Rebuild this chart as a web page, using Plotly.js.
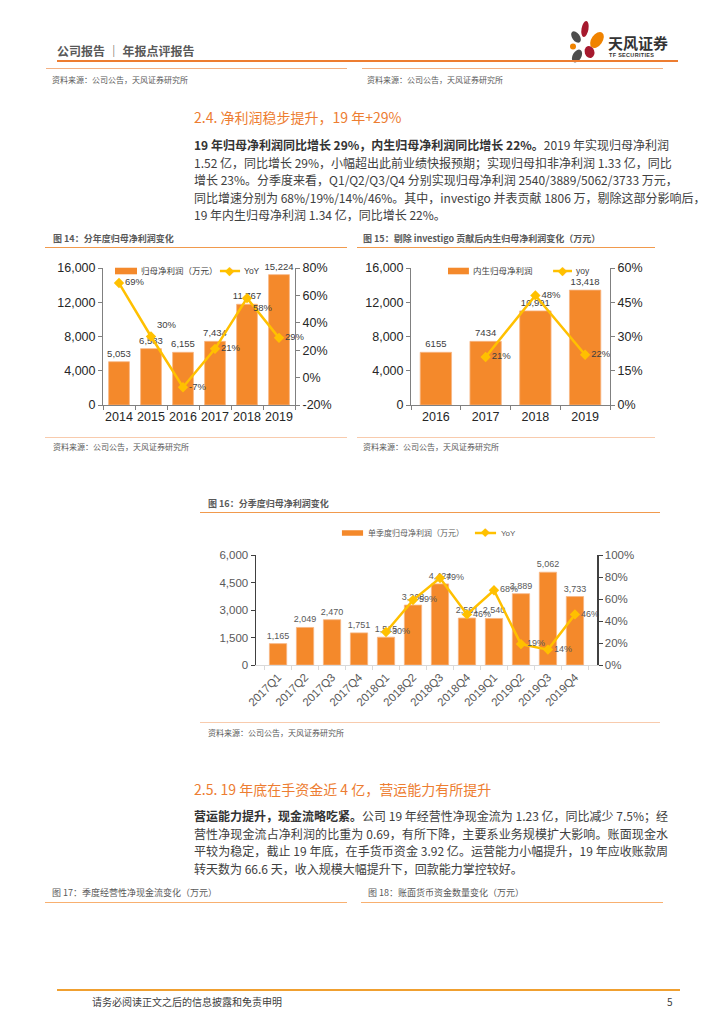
<!DOCTYPE html>
<html><head><meta charset="utf-8">
<script src="https://cdn.plot.ly/plotly-3.0.1.min.js"></script>
<style>
body{margin:0;background:#fff;}
#page{position:relative;width:724px;height:1024px;overflow:hidden;font-family:"Noto Sans CJK SC","Liberation Sans",sans-serif;color:#404040;background:#fff;}
.t{position:absolute;white-space:nowrap;}
.ln{position:absolute;height:0;}
.cap{font-size:9px;font-weight:bold;color:#595959;line-height:12px;}
.src{font-size:8px;color:#595959;line-height:10px;}
.h2{font-size:14px;color:#ED7D31;line-height:18px;}
.para{position:absolute;left:194px;width:474px;font-size:12px;line-height:17.5px;color:#404040;}
.para div{text-align:justify;text-align-last:justify;white-space:nowrap;}
.para div.last{text-align:left;text-align-last:left;}
.para b{color:#333;}
.chart{position:absolute;}
</style></head>
<body><div id="page">

<div class="t" style="left:57px;top:43px;font-size:12px;font-weight:bold;color:#595959;line-height:16px;">公司报告 ｜ 年报点评报告</div>
<svg class="t" style="left:560px;top:18px;" width="50" height="48" viewBox="560 18 50 48">
  <ellipse cx="585" cy="29" rx="3.5" ry="8" fill="#A6192E" transform="rotate(10 585 29)"/>
  <ellipse cx="576" cy="37" rx="3.8" ry="6.5" fill="#4D4D4D" transform="rotate(-35 576 37)"/>
  <ellipse cx="597" cy="40" rx="5.5" ry="9" fill="#F08300" transform="rotate(35 597 40)"/>
  <circle cx="573" cy="46.5" r="3" fill="#F08300"/>
  <ellipse cx="589.5" cy="52" rx="4.8" ry="6" fill="#A6192E" transform="rotate(-20 589.5 52)"/>
  <ellipse cx="577" cy="56" rx="4.3" ry="7" fill="#4D4D4D" transform="rotate(30 577 56)"/>
</svg>
<div class="t" style="left:608px;top:34px;font-size:15px;font-weight:bold;color:#333;line-height:18px;">天风证券</div>
<div class="t" style="left:609px;top:52px;font-size:5.5px;font-weight:bold;color:#333;line-height:7px;letter-spacing:0.3px;font-family:'Liberation Sans',sans-serif;">TF SECURITIES</div>
<div class="ln" style="left:57px;top:60px;width:621px;border-top:2px solid #ED7D31;"></div>

<div class="ln" style="left:46px;top:68px;width:301px;border-top:1px solid #F4B183;"></div>
<div class="ln" style="left:362px;top:68px;width:301px;border-top:1px solid #F4B183;"></div>
<div class="t src" style="left:52px;top:75px;">资料来源：公司公告，天风证券研究所</div>
<div class="t src" style="left:367px;top:75px;">资料来源：公司公告，天风证券研究所</div>

<div class="t h2" style="left:194px;top:108px;">2.4. 净利润稳步提升，19 年+29%</div>
<div class="para" style="top:136px;">
<div><b>19 年归母净利润同比增长 29%，内生归母净利润同比增长 22%。</b>2019 年实现归母净利润</div>
<div>1.52 亿，同比增长 29%，小幅超出此前业绩快报预期；实现归母扣非净利润 1.33 亿，同比</div>
<div>增长 23%。分季度来看，Q1/Q2/Q3/Q4 分别实现归母净利润 2540/3889/5062/3733 万元，</div>
<div>同比增速分别为 68%/19%/14%/46%。其中，investigo 并表贡献 1806 万，剔除这部分影响后，</div>
<div class="last">19 年内生归母净利润 1.34 亿，同比增长 22%。</div>
</div>

<div class="t cap" style="left:53px;top:233px;">图 14：分年度归母净利润变化</div>
<div class="t cap" style="left:363px;top:233px;">图 15：剔除 investigo 贡献后内生归母净利润变化（万元）</div>
<div class="ln" style="left:45px;top:247px;width:302px;border-top:1.2px solid #F19A4D;"></div>
<div class="ln" style="left:357px;top:247px;width:298px;border-top:1.2px solid #F19A4D;"></div>

<div id="c14" class="chart" style="left:40px;top:255px;width:320px;height:180px;"></div>
<div id="c15" class="chart" style="left:355px;top:255px;width:330px;height:180px;"></div>

<div class="ln" style="left:45px;top:437px;width:302px;border-top:1px solid #F8CBAD;"></div>
<div class="ln" style="left:357px;top:437px;width:298px;border-top:1px solid #F8CBAD;"></div>
<div class="t src" style="left:53px;top:442px;">资料来源：公司公告，天风证券研究所</div>
<div class="t src" style="left:363px;top:442px;">资料来源：公司公告，天风证券研究所</div>

<div class="t cap" style="left:208px;top:498px;">图 16：分季度归母净利润变化</div>
<div class="ln" style="left:200px;top:512px;width:460px;border-top:1.2px solid #F19A4D;"></div>
<div id="c16" class="chart" style="left:190px;top:520px;width:470px;height:200px;"></div>
<div class="ln" style="left:200px;top:722px;width:460px;border-top:1px solid #F8CBAD;"></div>
<div class="t src" style="left:208px;top:728px;">资料来源：公司公告，天风证券研究所</div>

<div class="t h2" style="left:194px;top:780px;">2.5. 19 年底在手资金近 4 亿，营运能力有所提升</div>
<div class="para" style="top:807px;">
<div><b>营运能力提升，现金流略吃紧。</b>公司 19 年经营性净现金流为 1.23 亿，同比减少 7.5%；经</div>
<div>营性净现金流占净利润的比重为 0.69，有所下降，主要系业务规模扩大影响。账面现金水</div>
<div>平较为稳定，截止 19 年底，在手货币资金 3.92 亿。运营能力小幅提升，19 年应收账款周</div>
<div class="last">转天数为 66.6 天，收入规模大幅提升下，回款能力掌控较好。</div>
</div>

<div class="t cap" style="left:52px;top:887px;font-weight:normal;">图 17：季度经营性净现金流变化（万元）</div>
<div class="t cap" style="left:368px;top:887px;font-weight:normal;">图 18：账面货币资金数量变化（万元）</div>
<div class="ln" style="left:45px;top:902px;width:302px;border-top:1.2px solid #F8B070;"></div>
<div class="ln" style="left:361px;top:902px;width:302px;border-top:1.2px solid #F8B070;"></div>

<div class="ln" style="left:57px;top:989px;width:623px;border-top:2px solid #F0A030;"></div>
<div class="t" style="left:92px;top:995px;font-size:10px;color:#404040;line-height:13px;">请务必阅读正文之后的信息披露和免责申明</div>
<div class="t" style="left:667px;top:995px;font-size:10px;color:#404040;line-height:13px;">5</div>

</div>
<script>
// ---------- data ----------
const years14 = ['2014','2015','2016','2017','2018','2019'];
const profit14 = [5053, 6583, 6155, 7434, 11767, 15224];
const yoy14 = [69, 30, -7, 21, 58, 29];

const years15 = ['2016','2017','2018','2019'];
const organic15 = [6155, 7434, 10991, 13418];
const yoy15 = [null, 21, 48, 22];

const quarters16 = ['2017Q1','2017Q2','2017Q3','2017Q4','2018Q1','2018Q2','2018Q3','2018Q4','2019Q1','2019Q2','2019Q3','2019Q4'];
const profit16 = [1165, 2049, 2470, 1751, 1515, 3268, 4424, 2561, 2540, 3889, 5062, 3733];
const yoy16 = [null, null, null, null, 30, 59, 79, 46, 68, 19, 14, 46];

const legend14 = ['归母净利润（万元）', 'YoY'];
const legend15 = ['内生归母净利润', 'yoy'];
const legend16 = ['单季度归母净利润（万元）', 'YoY'];

// ---------- style ----------
const BAR = '#F4892B', LINE = '#FFC000';
const FONT = 'Liberation Sans, Noto Sans CJK SC, sans-serif';
const comma = v => v.toLocaleString('en-US');
const pct = v => v == null ? '' : v + '%';
function ticksOf(r, d) { const a = []; for (let v = r[0]; v <= r[1] + 1e-9; v += d) a.push(v); return a; }

function legendParts(pa, labels, fontColor) {
  const h = pa.h;
  return {
    shapes: [
      {type:'rect', xref:'paper', yref:'paper', x0:pa.sx0, x1:pa.sx1, y0:pa.y-h, y1:pa.y+h, fillcolor:BAR, line:{width:0}},
      {type:'line', xref:'paper', yref:'paper', x0:pa.lx0, x1:pa.lx1, y0:pa.y, y1:pa.y, line:{color:LINE, width:2.5}}
    ],
    annotations: [
      {xref:'paper', yref:'paper', x:pa.tx, y:pa.y, text:labels[0], showarrow:false, xanchor:'left', yanchor:'middle', font:{size:pa.fs, color:fontColor}},
      {xref:'paper', yref:'paper', x:(pa.lx0+pa.lx1)/2, y:pa.y, text:'◆', showarrow:false, xanchor:'center', yanchor:'middle', font:{size:pa.fs+1, color:LINE}},
      {xref:'paper', yref:'paper', x:pa.ltx, y:pa.y, text:labels[1], showarrow:false, xanchor:'left', yanchor:'middle', font:{size:pa.fs, color:fontColor}}
    ]
  };
}

function draw(id, c) {
  const traces = [
    {type:'bar', x:c.x, y:c.bars, marker:{color:BAR, line:{color:'#F7B684', width:0.8}},
     text:c.barText, textposition:'outside', textangle:0, constraintext:'none', cliponaxis:false,
     textfont:{size:c.lbl, color:c.lblColor, family:FONT}, hoverinfo:'none'},
    {type:'scatter', x:c.x, y:c.line, yaxis:'y2', mode:'lines+markers+text',
     line:{color:LINE, width:2.5}, marker:{symbol:'diamond', size:8, color:LINE},
     text:c.line.map(pct), textposition:c.pos, cliponaxis:false,
     textfont:{size:c.lbl, color:c.lblColor, family:FONT}, hoverinfo:'none'}
  ];
  const lg = legendParts(c.leg, c.legLabels, c.lblColor);
  const ax = {showline:true, linecolor:c.axisColor, linewidth:c.axisW, ticks:'outside', ticklen:4,
              tickcolor:c.axisColor, showgrid:false, zeroline:false,
              tickfont:{size:c.tick, color:c.tickColor, family:FONT}};
  const y2v = ticksOf(c.y2r, c.y2dt);
  const layout = {
    width:c.w, height:c.h, margin:c.m, paper_bgcolor:'rgba(0,0,0,0)', plot_bgcolor:'rgba(0,0,0,0)',
    font:{family:FONT}, showlegend:false, bargap:c.gap,
    xaxis:Object.assign({}, ax, {type:'category', tickson:'boundaries', linecolor:c.xLine, tickcolor:c.xLine, linewidth:1, tickangle:c.xAngle}),
    yaxis:Object.assign({}, ax, {range:c.yr, dtick:c.ydt, tickformat:',', tick0:0}),
    yaxis2:Object.assign({}, ax, {overlaying:'y', side:'right', range:c.y2r, tickmode:'array',
      tickvals:y2v, ticktext:y2v.map(v => (v < 0 ? '-' + Math.abs(v) : v) + '%')}),
    shapes:lg.shapes, annotations:lg.annotations
  };
  Plotly.newPlot(id, traces, layout, {staticPlot:true, displayModeBar:false});
}

draw('c14', {
  x:years14, bars:profit14, barText:profit14.map(comma), line:yoy14,
  pos:['middle right','top right','middle right','middle right','bottom right','middle right'],
  w:320, h:180, m:{l:63, r:65, t:13, b:30}, gap:0.35,
  yr:[0,16000], ydt:4000, y2r:[-20,80], y2dt:20,
  tick:12.5, tickColor:'#262626', axisColor:'#808080', axisW:1, xLine:'#808080', xAngle:0,
  lbl:9.5, lblColor:'#404040', legLabels:legend14,
  leg:{sx0:0.0625, sx1:0.177, tx:0.19, lx0:0.609, lx1:0.714, ltx:0.725, y:0.978, h:0.024, fs:8.5}
});

draw('c15', {
  x:years15, bars:organic15, barText:organic15.map(v => v >= 10000 ? comma(v) : String(v)), line:yoy15,
  pos:'middle right',
  w:330, h:180, m:{l:56, r:75, t:13, b:30}, gap:0.37,
  yr:[0,16000], ydt:4000, y2r:[0,60], y2dt:15,
  tick:12.5, tickColor:'#262626', axisColor:'#808080', axisW:1, xLine:'#808080', xAngle:0,
  lbl:9.5, lblColor:'#404040', legLabels:legend15,
  leg:{sx0:0.186, sx1:0.291, tx:0.303, lx0:0.714, lx1:0.809, ltx:0.82, y:0.978, h:0.024, fs:8.5}
});

draw('c16', {
  x:quarters16, bars:profit16, barText:profit16.map(comma), line:yoy16,
  pos:'middle right',
  w:470, h:200, m:{l:66, r:63, t:35, b:55}, gap:0.36,
  yr:[0,6000], ydt:1500, y2r:[0,100], y2dt:20,
  tick:11.5, tickColor:'#595959', axisColor:'#404040', axisW:1.5, xLine:'#D9D9D9', xAngle:-45,
  lbl:9, lblColor:'#595959', legLabels:legend16,
  leg:{sx0:0.252, sx1:0.314, tx:0.322, lx0:0.642, lx1:0.704, ltx:0.712, y:1.2, h:0.025, fs:8}
});
</script>
</body></html>
